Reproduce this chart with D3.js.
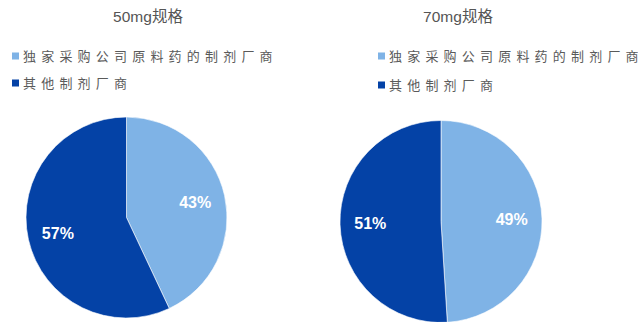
<!DOCTYPE html>
<html><head><meta charset="utf-8">
<script src="https://cdn.jsdelivr.net/npm/d3@7"></script>
<style>body{margin:0;background:#fff;}svg{display:block;}</style>
</head><body>
<script>
const categories = ["独家采购公司原料药的制剂厂商", "其他制剂厂商"];
const chartTitles = ["50mg规格", "70mg规格"];
const values50 = [43, 57];
const values70 = [49, 51];
const colors = ["#7FB3E6", "#0442A6"];

const W = 638, H = 322;
const svg = d3.select("body").append("svg").attr("width", W).attr("height", H);

const panels = [
  {title: chartTitles[0], values: values50, cx: 126.5, cy: 217.5, r: 100.5, tx: 148, ty: 22, lx: 12, ly: 56, lgap: 27},
  {title: chartTitles[1], values: values70, cx: 441, cy: 221.5, r: 101, tx: 458, ty: 22, lx: 378, ly: 56, lgap: 29}
];

const pie = d3.pie().sort(null).startAngle(0).endAngle(2 * Math.PI);
const perChar = 18.2; // legend character pitch

panels.forEach(p => {
  const g = svg.append("g");
  g.append("text").attr("x", p.tx).attr("y", p.ty).attr("text-anchor", "middle")
    .attr("font-family", "'Liberation Sans','Noto Sans CJK SC',sans-serif")
    .attr("font-size", 15.5).attr("fill", "#555").text(p.title);

  categories.forEach((c, i) => {
    const y = p.ly + i * p.lgap;
    g.append("rect").attr("x", p.lx).attr("y", y - 3.5).attr("width", 7).attr("height", 7).attr("fill", colors[i]);
    const n = Array.from(c).length;
    g.append("text").attr("x", p.lx + 11).attr("y", y + 4.5)
      .attr("font-family", "'Noto Sans CJK SC',sans-serif").attr("font-size", 13)
      .attr("textLength", (n - 1) * perChar + 13).attr("lengthAdjust", "spacing")
      .attr("fill", "#5a5a5a").text(c);
  });

  const arc = d3.arc().innerRadius(0).outerRadius(p.r);
  const labelArc = d3.arc().innerRadius(p.r * 0.7).outerRadius(p.r * 0.7);
  const arcs = pie(p.values);
  const pg = g.append("g").attr("transform", `translate(${p.cx},${p.cy})`);
  pg.selectAll("path").data(arcs).join("path")
    .attr("d", arc).attr("fill", (d, i) => colors[i])
    .attr("stroke", "#ffffff").attr("stroke-width", 0.6);
  pg.selectAll("text").data(arcs).join("text")
    .attr("transform", d => `translate(${labelArc.centroid(d)})`)
    .attr("text-anchor", "middle").attr("dy", "0.36em")
    .attr("font-family", "'Liberation Sans',Arial,sans-serif")
    .attr("font-size", 16).attr("font-weight", "bold").attr("fill", "#fff")
    .text(d => d.data + "%");
});
</script>
</body></html>
